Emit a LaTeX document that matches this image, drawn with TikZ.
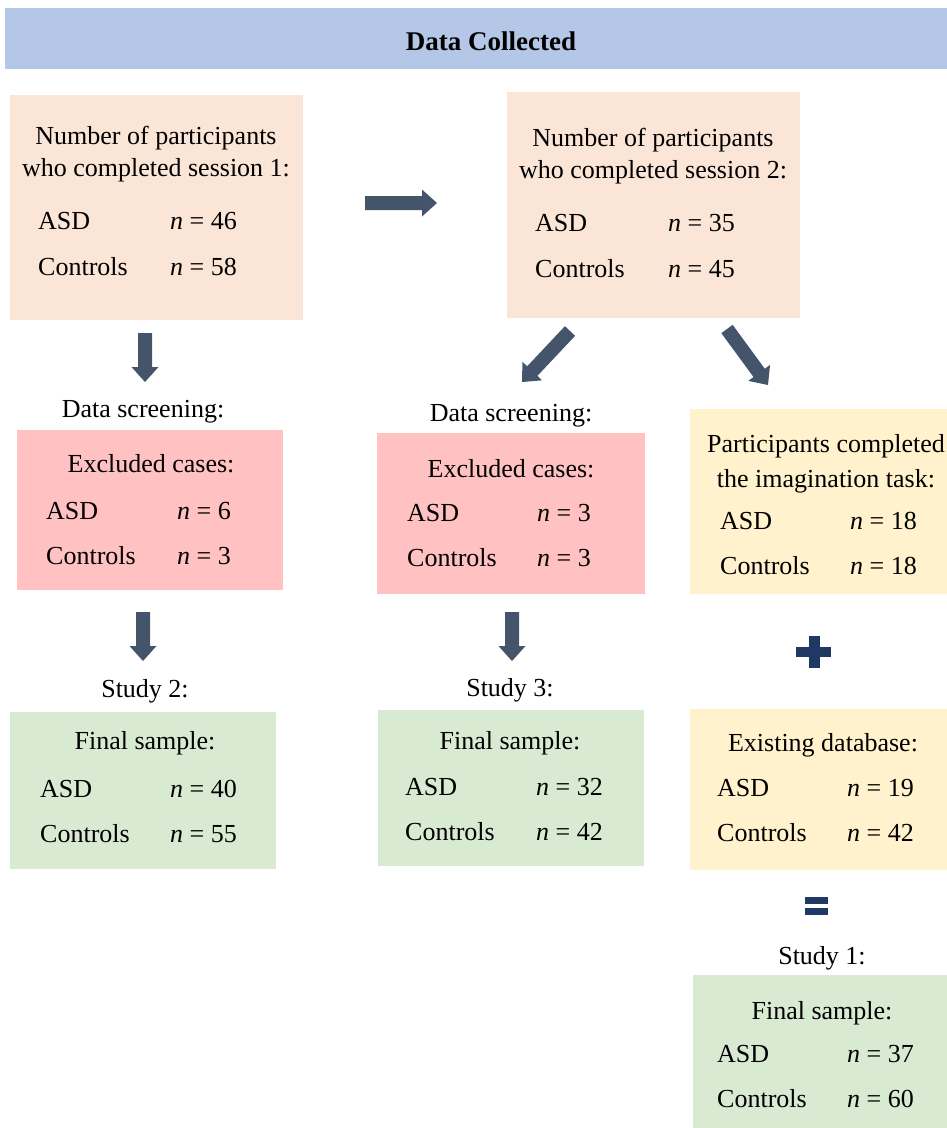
\documentclass[tikz,border=0pt]{standalone}
\usepackage{fontspec}
\setmainfont{Liberation Serif}
\usetikzlibrary{calc}
\definecolor{hdr}{HTML}{B4C7E7}
\definecolor{peach}{HTML}{FBE5D6}
\definecolor{pinkred}{HTML}{FFC1C1}
\definecolor{yel}{HTML}{FFF2CC}
\definecolor{grn}{HTML}{D9EAD3}
\definecolor{arrowcol}{HTML}{44546A}
\definecolor{navy}{HTML}{203864}
\newcommand{\blockarr}[3]{%
 \coordinate (#3s) at (#1); \coordinate (#3e) at (#2);
 \coordinate (#3h) at ($(#3e)!15pt!(#3s)$);
 \fill[arrowcol] ($(#3s)!7pt!90:(#3e)$) -- ($(#3h)!7pt!-90:(#3s)$) -- ($(#3h)!13.5pt!-90:(#3s)$) -- (#3e) -- ($(#3h)!13.5pt!90:(#3s)$) -- ($(#3h)!7pt!90:(#3s)$) -- ($(#3s)!7pt!-90:(#3e)$) -- cycle;}
\newcommand{\grow}[6]{% name, xlabel, xval, baseline, label, value
 \node[txt, anchor=base west] (#1l) at (#2,#4) {#5};
 \node[txt, anchor=base west] (#1v) at (#3,#4) {\textit{n} = #6};}
\tikzset{
 txt/.style={inner sep=0pt, font=\fontsize{26}{31}\selectfont},
 ctxt/.style={txt, anchor=base},
 boxr/.style={draw=none, inner sep=0pt},
}
\begin{document}
\begin{tikzpicture}[x=1pt,y=-1pt]
\useasboundingbox (0,0) rectangle (947,1128);
% header
\fill[hdr] (5,8) rectangle (947,69);
\node[inner sep=0pt, anchor=base, font=\fontsize{27}{31}\selectfont\bfseries] (title) at (491,50) {Data Collected};
% boxes
\fill[peach] (10,95) rectangle (303,320);
\fill[peach] (507,92) rectangle (800,318);
\fill[pinkred] (17,430) rectangle (283,590);
\fill[pinkred] (377,433) rectangle (645,594);
\fill[yel] (690,409) rectangle (947,594);
\fill[grn] (10,712) rectangle (276,869);
\fill[grn] (378,710) rectangle (644,866);
\fill[yel] (690,709) rectangle (947,870);
\fill[grn] (693,975) rectangle (947,1128);
% box 1
\node[ctxt] (s1a) at (156,144) {Number of participants};
\node[ctxt] (s1b) at (156,176) {who completed session 1:};
\grow{s1asd}{38}{170}{229}{ASD}{46}
\grow{s1con}{38}{170}{275}{Controls}{58}
% box 2
\node[ctxt] (s2a) at (653,146) {Number of participants};
\node[ctxt] (s2b) at (653,178) {who completed session 2:};
\grow{s2asd}{535}{668}{231}{ASD}{35}
\grow{s2con}{535}{668}{277}{Controls}{45}
% screening
\node[ctxt] (ds1) at (143,417) {Data screening:};
\node[ctxt] (ds2) at (511,421) {Data screening:};
\node[ctxt] (ex1) at (151,472) {Excluded cases:};
\grow{e1asd}{46}{177}{519}{ASD}{6}
\grow{e1con}{46}{177}{564}{Controls}{3}
\node[ctxt] (ex2) at (511,477) {Excluded cases:};
\grow{e2asd}{407}{537}{521}{ASD}{3}
\grow{e2con}{407}{537}{566}{Controls}{3}
% imagination
\node[ctxt] (im1) at (826,452) {Participants completed};
\node[ctxt] (im2) at (826,487) {the imagination task:};
\grow{imasd}{720}{850}{529}{ASD}{18}
\grow{imcon}{720}{850}{574}{Controls}{18}
% studies 2 and 3
\node[ctxt] (st2) at (145,697) {Study 2:};
\node[ctxt] (fs2) at (145,749) {Final sample:};
\grow{f2asd}{40}{170}{797}{ASD}{40}
\grow{f2con}{40}{170}{842}{Controls}{55}
\node[ctxt] (st3) at (510,696) {Study 3:};
\node[ctxt] (fs3) at (510,749) {Final sample:};
\grow{f3asd}{405}{536}{795}{ASD}{32}
\grow{f3con}{405}{536}{840}{Controls}{42}
% existing database
\node[ctxt] (db) at (823,751) {Existing database:};
\grow{dbasd}{717}{847}{796}{ASD}{19}
\grow{dbcon}{717}{847}{841}{Controls}{42}
% study 1
\node[ctxt] (st1) at (822,964) {Study 1:};
\node[ctxt] (fs1) at (822,1019) {Final sample:};
\grow{f1asd}{717}{847}{1062}{ASD}{37}
\grow{f1con}{717}{847}{1107}{Controls}{60}
% arrows
\blockarr{365,203}{437,203}{ar}
\blockarr{145,333}{145,382}{ad}
\blockarr{570,331}{522,382}{am}
\blockarr{727,329}{768,385}{an}
\blockarr{143,612}{143,661}{ae}
\blockarr{512,612}{512,661}{af}
% plus and equals
\fill[navy] (809,636) rectangle (820,668);
\fill[navy] (796,647) rectangle (831,657);
\fill[navy] (805,897) rectangle (828,904);
\fill[navy] (805,908) rectangle (828,915);
\end{tikzpicture}
\end{document}
